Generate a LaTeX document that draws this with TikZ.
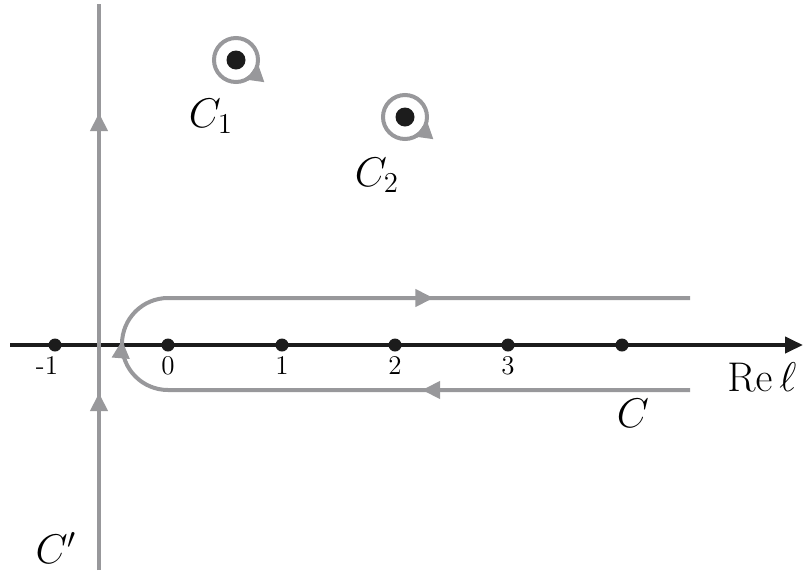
\documentclass[tikz,border=0pt]{standalone}
\usetikzlibrary{arrows.meta,decorations.markings}
\definecolor{cgray}{RGB}{152,152,155}
\definecolor{cblack}{RGB}{28,28,28}
\tikzset{
  grayline/.style={draw=cgray,line width=2pt},
  axisline/.style={draw=cblack,line width=2pt},
  dot/.style={circle,fill=cblack,inner sep=0pt,minimum size=6.5pt},
  bigdot/.style={circle,fill=cblack,inner sep=0pt,minimum size=9.5pt},
  ticklabel/.style={font=\fontsize{13.5}{15}\selectfont,inner sep=0pt},
  mainlabel/.style={font=\fontsize{20}{24}\selectfont,inner sep=0pt},
}
\begin{document}
\begin{tikzpicture}[x=0.5pt,y=-0.5pt]
\useasboundingbox (0,0) rectangle (803,574);
% real axis
\coordinate (axL) at (10,345);
\coordinate (axR) at (803,345);
\draw[axisline,-{Triangle[length=9pt,width=8pt]}] (axL) -- (axR);
% vertical contour C'
\coordinate (vB) at (99,570);
\coordinate (vT) at (99,4);
\draw[grayline,postaction={decorate},decoration={markings,
  mark=at position 88.5pt with {\arrow[cgray]{Triangle[length=9pt,width=8.5pt]}},
  mark=at position 228.5pt with {\arrow[cgray]{Triangle[length=9pt,width=8.5pt]}}}]
  (vB) -- (vT);
% contour C
\coordinate (cBR) at (690,390);
\coordinate (cBL) at (168,390);
\coordinate (cTR) at (690,298);
\draw[grayline,postaction={decorate},decoration={markings,
  mark=at position 134pt with {\arrow[cgray]{Triangle[length=9pt,width=8.5pt]}},
  mark=at position 299pt with {\arrow[cgray]{Triangle[length=9pt,width=8.5pt]}},
  mark=at position 466pt with {\arrow[cgray]{Triangle[length=9pt,width=8.5pt]}}}]
  (cBR) -- (cBL) arc[start angle=90,end angle=270,radius=46] -- (cTR);
% dots on axis
\node[dot] (dm1) at (55,345) {};
\node[dot] (d0) at (168,345) {};
\node[dot] (d1) at (282,345) {};
\node[dot] (d2) at (395,345) {};
\node[dot] (d3) at (508,345) {};
\node[dot] (d4) at (622,345) {};
% tick labels
\node[ticklabel] (lm1) at (47,366) {-1};
\node[ticklabel] (l0) at (168,366) {0};
\node[ticklabel] (l1) at (282,366) {1};
\node[ticklabel] (l2) at (395,366) {2};
\node[ticklabel] (l3) at (508,366) {3};
% poles with small circles
\node[bigdot] (p1) at (236,60) {};
\node[bigdot] (p2) at (405,117) {};
\draw[grayline] (p1.center) circle[radius=22];
\draw[grayline] (p2.center) circle[radius=22];
\draw[draw=cgray,line width=2pt,-{Triangle[length=9pt,width=8.5pt]}] (p1.center) ++(60:22) arc[start angle=60,end angle=8,radius=22];
\draw[draw=cgray,line width=2pt,-{Triangle[length=9pt,width=8.5pt]}] (p2.center) ++(60:22) arc[start angle=60,end angle=8,radius=22];
% labels
\node[mainlabel] (lC1) at (211,116) {$C_1$};
\node[mainlabel] (lC2) at (377,175) {$C_2$};
\node[mainlabel] (lRe) at (762,377) {$\mathrm{Re}\,\ell$};
\node[mainlabel] (lC) at (633,413) {$C$};
\node[mainlabel] (lCp) at (56,548) {$C'$};
\end{tikzpicture}
\end{document}
